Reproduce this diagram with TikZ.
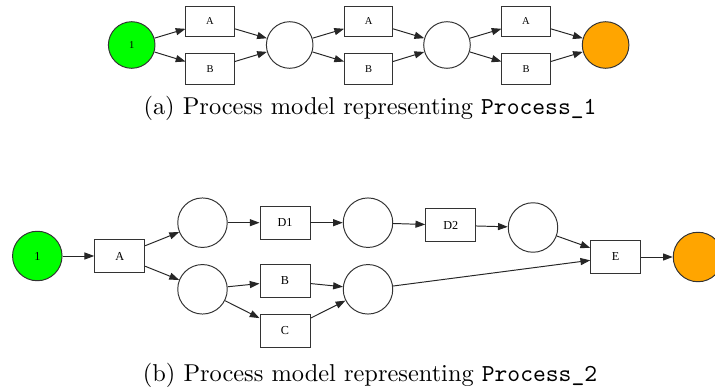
\documentclass[tikz,border=0pt]{standalone}
\usepackage{fontspec}
\usepackage{tikz}
\usepackage{xcolor}
\usetikzlibrary{arrows.meta}
\newfontfamily\labelfont{Liberation Serif}
\definecolor{startgreen}{HTML}{00FF00}
\definecolor{endorange}{HTML}{FFA500}
\tikzset{
    place-small/.style = {draw=black!80, circle, line width=0.4pt, minimum size=19.1pt, inner sep=0pt, font=\labelfont\fontsize{4.3}{5}\selectfont},
    place-large/.style = {draw=black!80, circle, line width=0.4pt, minimum size=20.3pt, inner sep=0pt, font=\labelfont\fontsize{5}{6}\selectfont},
    trans-small/.style = {draw=black!80, rectangle, line width=0.4pt, minimum width=19.7pt, minimum height=12.7pt, inner sep=0pt, font=\labelfont\fontsize{4.3}{5}\selectfont},
    trans-large/.style = {draw=black!80, rectangle, line width=0.4pt, minimum width=20.5pt, minimum height=13.5pt, inner sep=0pt, font=\labelfont\fontsize{5}{6}\selectfont},
    start-fill/.style = {fill=startgreen},
    end-fill/.style = {fill=endorange},
    flow-arrow/.style = {draw=black!85, line width=0.4pt, -{Triangle[length=4pt, width=2.9pt]}},
}

\begin{document}
\begin{tikzpicture}[x=0.41pt, y=-0.41pt]
\useasboundingbox (0,0) rectangle (715,392);

% (a) first model
\node[place-small, start-fill] (s1) at (131.7,45) {1};
\node[trans-small] (a1) at (210,21.5) {A};
\node[trans-small] (b1) at (210,69) {B};
\node[place-small] (c1) at (289.7,45) {};
\node[trans-small] (a2) at (368.6,21.5) {A};
\node[trans-small] (b2) at (368.6,69) {B};
\node[place-small] (c2) at (447,45) {};
\node[trans-small] (a3) at (526,21.5) {A};
\node[trans-small] (b3) at (526,69) {B};
\node[place-small, end-fill] (e1) at (605.6,45) {};

\draw[flow-arrow] (s1) -- (a1);
\draw[flow-arrow] (s1) -- (b1);
\draw[flow-arrow] (a1) -- (c1);
\draw[flow-arrow] (b1) -- (c1);
\draw[flow-arrow] (c1) -- (a2);
\draw[flow-arrow] (c1) -- (b2);
\draw[flow-arrow] (a2) -- (c2);
\draw[flow-arrow] (b2) -- (c2);
\draw[flow-arrow] (c2) -- (a3);
\draw[flow-arrow] (c2) -- (b3);
\draw[flow-arrow] (a3) -- (e1);
\draw[flow-arrow] (b3) -- (e1);

\node (cap1) at (370,108) {(a) Process model representing \texttt{Process\_1}};

% (b) second model
\node[place-large, start-fill] (s2) at (37.3,256) {1};
\node[trans-large] (ta) at (119.7,256) {A};
\node[place-large] (p1) at (202.5,222.7) {};
\node[place-large] (p2) at (202.5,289.3) {};
\node[trans-large] (td1) at (285,222.7) {D1};
\node[trans-large] (tb) at (285,281) {B};
\node[trans-large] (tc) at (285,331) {C};
\node[place-large] (p3) at (368,222.7) {};
\node[place-large] (p4) at (368,289.3) {};
\node[trans-large] (td2) at (450.7,225.3) {D2};
\node[place-large] (p5) at (533,227.5) {};
\node[trans-large] (te) at (615.7,257) {E};
\node[place-large, end-fill] (e2) at (698,257) {};

\draw[flow-arrow] (s2) -- (ta);
\draw[flow-arrow] (ta) -- (p1);
\draw[flow-arrow] (ta) -- (p2);
\draw[flow-arrow] (p1) -- (td1);
\draw[flow-arrow] (td1) -- (p3);
\draw[flow-arrow] (p3) -- (td2);
\draw[flow-arrow] (td2) -- (p5);
\draw[flow-arrow] (p5) -- (te);
\draw[flow-arrow] (p2) -- (tb);
\draw[flow-arrow] (p2) -- (tc);
\draw[flow-arrow] (tb) -- (p4);
\draw[flow-arrow] (tc) -- (p4);
\draw[flow-arrow] (p4) -- (te);
\draw[flow-arrow] (te) -- (e2);

\node (cap2) at (370,375) {(b) Process model representing \texttt{Process\_2}};
\end{tikzpicture}
\end{document}
